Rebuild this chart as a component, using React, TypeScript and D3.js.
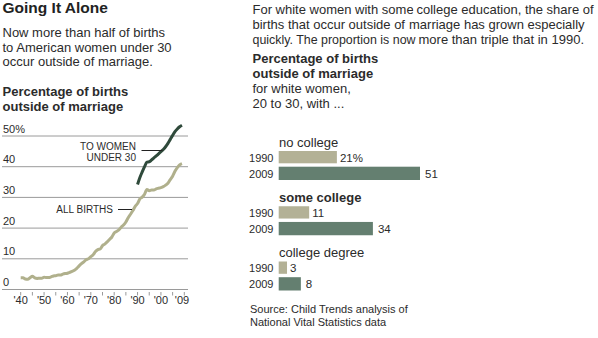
import React from "react";
import * as d3 from "d3";

const allYears = [1940,1941,1942,1943,1944,1945,1946,1947,1948,1949,1950,1951,1952,1953,1954,1955,1956,1957,1958,1959,1960,1961,1962,1963,1964,1965,1966,1967,1968,1969,1970,1971,1972,1973,1974,1975,1976,1977,1978,1979,1980,1981,1982,1983,1984,1985,1986,1987,1988,1989,1990,1991,1992,1993,1994,1995,1996,1997,1998,1999,2000,2001,2002,2003,2004,2005,2006,2007,2008,2009];
const allBirths = [3.8,3.8,3.4,3.3,3.8,4.3,3.8,3.6,3.7,3.7,4.0,3.9,3.9,4.1,4.4,4.5,4.7,4.7,5.0,5.2,5.3,5.6,5.9,6.3,6.9,7.7,8.4,9.0,9.7,10.0,10.7,11.3,12.4,13.0,13.2,14.3,14.8,15.5,16.3,17.1,18.4,18.9,19.4,20.3,21.0,22.0,23.4,24.5,25.7,27.1,28.0,29.5,30.1,31.0,32.6,32.2,32.4,32.4,32.8,33.0,33.2,33.5,34.0,34.6,35.8,36.9,38.5,39.7,40.6,41.0];
const u30Years = [1990,1991,1992,1993,1994,1995,1996,1997,1998,1999,2000,2001,2002,2003,2004,2005,2006,2007,2008,2009];
const under30 = [34.2,36.5,38.3,40.0,41.5,41.6,42.2,42.9,43.5,44.2,44.9,45.6,46.5,47.6,48.9,50.2,51.4,52.3,53.0,53.5];
const yTicks = [0,10,20,30,40,50];
const yTickLabels = ["0","10","20","30","40","50%"];
const xTickYears = [1940,1945,1950,1955,1960,1965,1970,1975,1980,1985,1990,1995,2000,2005,2010];
const xLabelYears = [1940,1950,1960,1970,1980,1990,2000,2009];
const xLabels = ["'40","'50","'60","'70","'80","'90","'00","'09"];

const groups = ["no college","some college","college degree"];
const groupBold = [false,true,false];
const v1990 = [21,11,3];
const v2009 = [51,34,8];
const v1990Labels = ["21%","11","3"];
const v2009Labels = ["51","34","8"];

const FONT = "'Liberation Sans', Arial, Helvetica, sans-serif";
const TXT = "#2b2b2b";
const GRID = "#9a9a9a";
const LIGHT = "#b3b196";
const DARK = "#647f70";

export default function App() {
  const x = d3.scaleLinear().domain([1940, 2010]).range([20.7, 184.3]);
  const y = d3.scaleLinear().domain([0, 50]).range([289.5, 136]);
  const line = d3.line<[number, number]>().x(d => x(d[0])).y(d => y(d[1])).curve(d3.curveMonotoneX);
  const allPts = allYears.map((yr, i) => [yr, allBirths[i]] as [number, number]);
  const u30Pts = u30Years.map((yr, i) => [yr, under30[i]] as [number, number]);

  const bx = d3.scaleLinear().domain([0, 51]).range([278.7, 420]);
  const groupBase = d3.scaleLinear().domain([0, 2]).range([146.5, 257]);

  return (
    <svg width={598} height={338} style={{ position: "fixed", left: 0, top: 0, background: "#fff" }} fontFamily={FONT}>
      <rect width={598} height={338} fill="#fff" />
      <defs>
        <clipPath id="cut1">
          <rect x={240} y={0} width={173.5} height={20} />
        </clipPath>
      </defs>
      {/* Left header */}
      <text x={2.5} y={13} fontSize={15.5} fontWeight="bold" fill="#222">Going It Alone</text>
      <g fontSize={13} fill={TXT}>
        <text x={2.5} y={37}>Now more than half of births</text>
        <text x={2.5} y={51.5}>to American women under 30</text>
        <text x={2.5} y={66}>occur outside of marriage.</text>
      </g>
      <g fontSize={13} fontWeight="bold" fill={TXT}>
        <text x={2.5} y={96}>Percentage of births</text>
        <text x={2.5} y={111}>outside of marriage</text>
      </g>

      {/* Left chart grid */}
      {yTicks.map((t, i) => (
        <g key={t}>
          <line x1={2} x2={188} y1={y(t)} y2={y(t)} stroke={GRID} strokeWidth={1} />
          <text x={3} y={y(t) - 3.5} fontSize={11} fill={TXT}>{yTickLabels[i]}</text>
        </g>
      ))}
      {xTickYears.map(t => (
        <line key={t} x1={x(t)} x2={x(t)} y1={292} y2={295.5} stroke={GRID} strokeWidth={1} />
      ))}
      {xLabelYears.map((t, i) => (
        <text key={t} x={x(t)} y={304} fontSize={11} textAnchor="middle" fill={TXT}>{xLabels[i]}</text>
      ))}
      <path d={line(allPts) || ""} fill="none" stroke="#b0b08c" strokeWidth={3} strokeLinejoin="round" />
      <path d={line(u30Pts) || ""} fill="none" stroke="#2f4a3b" strokeWidth={3} strokeLinejoin="round" />

      {/* annotations */}
      <g fontSize={10} fill={TXT} textAnchor="end">
        <text x={136} y={149.5}>TO WOMEN</text>
        <text x={136} y={161}>UNDER 30</text>
        <text x={113} y={212.5}>ALL BIRTHS</text>
      </g>
      <line x1={141.5} x2={162.5} y1={150.5} y2={150.5} stroke="#222" strokeWidth={1} />
      <line x1={118} x2={132} y1={209.5} y2={209.5} stroke="#222" strokeWidth={1} />

      {/* Right header text */}
      <g fontSize={13} fill={TXT}>
        <text x={252.5} y={14.3} clipPath="url(#cut1)">For white women with some</text>
        <text x={416.5} y={14.3}>college education, the share of</text>
        <text x={252.5} y={29.3}>births that occur outside of</text>
        <text x={409} y={29.3}>marriage has grown especially</text>
        <text x={252.5} y={44} textLength={163} lengthAdjust="spacingAndGlyphs">quickly. The proportion is now</text>
        <text x={418.5} y={44}>more than triple that in 1990.</text>
      </g>
      <g fontSize={13} fontWeight="bold" fill={TXT}>
        <text x={252.5} y={63.3}>Percentage of births</text>
        <text x={252.5} y={78.3}>outside of marriage</text>
      </g>
      <g fontSize={13} fill={TXT}>
        <text x={252.5} y={92.8}>for white women,</text>
        <text x={252.5} y={107.5}>20 to 30, with ...</text>
      </g>

      {/* Bars */}
      {groups.map((g, i) => {
        const b = groupBase(i);
        return (
          <g key={g}>
            <text x={279} y={b} fontSize={13} fontWeight={groupBold[i] ? "bold" : "normal"} fill={TXT}>{g}</text>
            <text x={273.5} y={b + 15} fontSize={11} textAnchor="end" fill={TXT}>1990</text>
            <rect x={bx(0)} y={b + 4.5} width={bx(v1990[i]) - bx(0)} height={12.3} fill={LIGHT} />
            <text x={bx(v1990[i]) + 3} y={b + 15} fontSize={11.5} fill={TXT}>{v1990Labels[i]}</text>
            <text x={273.5} y={b + 31} fontSize={11} textAnchor="end" fill={TXT}>2009</text>
            <rect x={bx(0)} y={b + 20.2} width={bx(v2009[i]) - bx(0)} height={13.3} fill={DARK} />
            <text x={bx(v2009[i]) + 5} y={b + 31} fontSize={11.5} fill={TXT}>{v2009Labels[i]}</text>
          </g>
        );
      })}

      {/* Source */}
      <g fontSize={11} fill={TXT}>
        <text x={250} y={313}>Source: Child Trends analysis of</text>
        <text x={250} y={326}>National Vital Statistics data</text>
      </g>
    </svg>
  );
}
